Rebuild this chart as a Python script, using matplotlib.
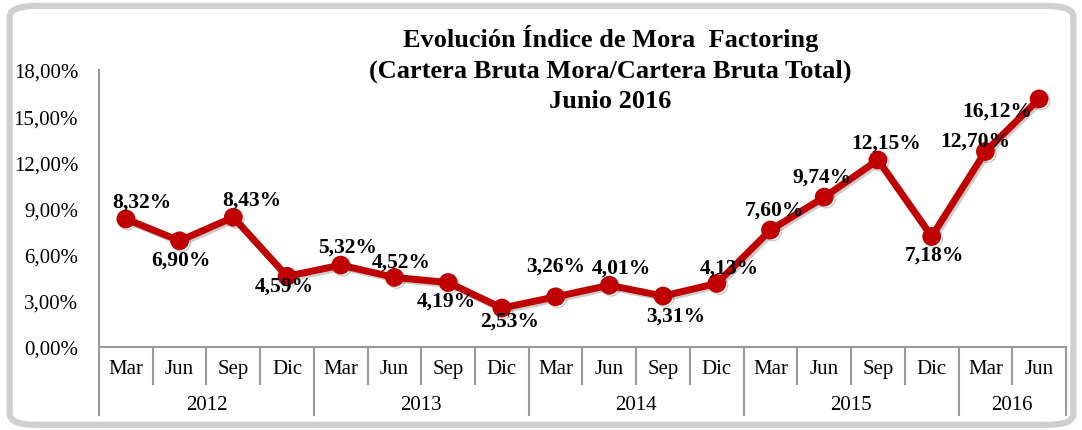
import matplotlib
matplotlib.use('Agg')
import matplotlib.pyplot as plt
import matplotlib.patheffects as pe
from matplotlib.patches import FancyBboxPatch

plt.rcParams['font.family'] = ['Liberation Serif', 'DejaVu Serif']

MONTHS = ['Mar', 'Jun', 'Sep', 'Dic'] * 4 + ['Mar', 'Jun']
YEARS = ['2012', '2013', '2014', '2015', '2016']
YEAR_SIZES = [4, 4, 4, 4, 2]
MORA = [8.32, 6.90, 8.43, 4.59, 5.32, 4.52, 4.19, 2.53, 3.26,
        4.01, 3.31, 4.13, 7.60, 9.74, 12.15, 7.18, 12.70, 16.12]

# desplazamiento de cada etiqueta (pixeles) respecto a su punto
LABEL_OFFSETS = [(16, 17), (1, -19), (19, 18), (-3, -9), (7, 19), (7, 16),
                 (-2, -18), (8, -13), (0, 31), (12, 18), (13, -20), (12, 16),
                 (4, 20), (-2, 21), (8, 17), (3, -18), (-10, 11), (-42, -12)]

RED = '#C00000'
GRAY = '#9a9a9a'

fig = plt.figure(figsize=(10.82, 4.31), dpi=100)
fig.patches.append(FancyBboxPatch((0.009, 0.012), 0.983, 0.972,
                                  boxstyle='round,pad=0,rounding_size=0.025',
                                  transform=fig.transFigure, fill=False,
                                  edgecolor='#cfcfcf', lw=4.5))

ax = fig.add_axes([0.0915, 0.1926, 0.8937, 0.6427])
x = list(range(len(MORA)))
ax.plot(x, MORA, color=RED, lw=5, marker='o', ms=12.5, solid_joinstyle='round',
        path_effects=[pe.SimpleLineShadow(offset=(1.5, -1.5), alpha=0.2), pe.Normal()],
        zorder=3)

for xi, v, (dx, dy) in zip(x, MORA, LABEL_OFFSETS):
    ax.annotate(f"{v:.2f}%".replace('.', ','), (xi, v), xytext=(dx, dy),
                textcoords='offset pixels', ha='center', va='center',
                fontsize=15.5, fontweight='bold', zorder=4)

ax.set_xlim(-0.5, len(MORA) - 0.5)
ax.set_ylim(0, 18)
ax.set_yticks([0, 3, 6, 9, 12, 15, 18])
ax.set_yticklabels([f"{t:.2f}%".replace('.', ',') for t in [0, 3, 6, 9, 12, 15, 18]])
ax.tick_params(axis='y', length=0, labelsize=15, pad=15)
ax.set_xticks([])
for s in ['top', 'right']:
    ax.spines[s].set_visible(False)
for s in ['left', 'bottom']:
    ax.spines[s].set_color(GRAY)
    ax.spines[s].set_linewidth(1.5)

# eje de categorias en dos niveles
trans = ax.get_xaxis_transform()
for xi, m in zip(x, MONTHS):
    ax.text(xi, -0.076, m, transform=trans, ha='center', va='center', fontsize=15)
bounds = [0]
for n in YEAR_SIZES:
    bounds.append(bounds[-1] + n)
for b in range(len(MORA) + 1):
    bottom = -0.245 if b in bounds else -0.134
    ax.plot([b - 0.5, b - 0.5], [0, bottom], transform=trans, color=GRAY,
            lw=1.5, clip_on=False)
for yr, a, b in zip(YEARS, bounds[:-1], bounds[1:]):
    ax.text((a + b) / 2 - 0.5, -0.206, yr, transform=trans, ha='center',
            va='center', fontsize=15)

fig.text(0.564, 0.84, "Evolución Índice de Mora  Factoring\n"
         "(Cartera Bruta Mora/Cartera Bruta Total)\nJunio 2016",
         ha='center', va='center', fontsize=19, fontweight='bold',
         linespacing=1.42)

fig.savefig('out.png', dpi=100)
